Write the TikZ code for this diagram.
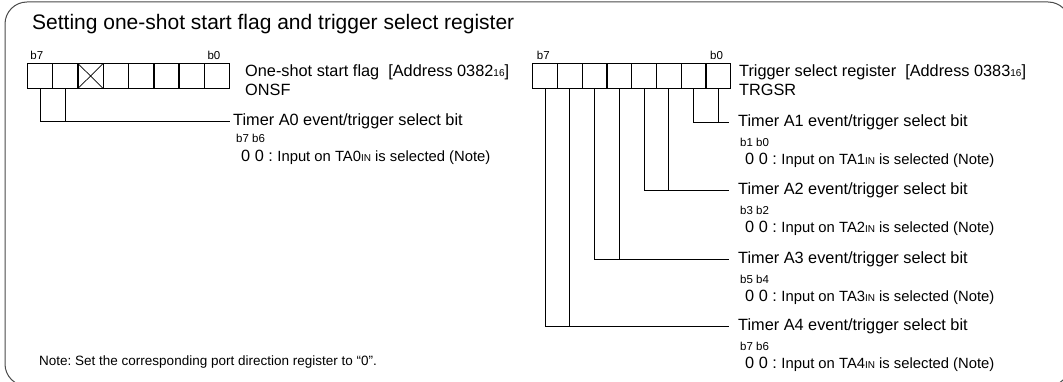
\documentclass[tikz,border=0pt]{standalone}
\usepackage{fontspec}
\setmainfont{Liberation Sans}
\usepackage{xcolor}
\usetikzlibrary{calc}
\definecolor{frame}{HTML}{4A4A4A}
\tikzset{
  frm/.style={draw=frame, line width=1pt, rounded corners=22pt},
  cell/.style={draw=black, line width=1.4pt, minimum width=25.3pt, minimum height=25pt, inner sep=0pt, outer sep=0pt},
  conn/.style={draw=black, line width=0.7pt},
  ttl/.style={font=\fontsize{21}{24}\selectfont, inner sep=0pt, anchor=west},
  mid/.style={font=\fontsize{16.3}{19}\selectfont, inner sep=0pt, anchor=west, align=left},
  sml/.style={font=\fontsize{11.5}{13}\selectfont, inner sep=0pt, anchor=west},
}
\frenchspacing
\newcommand{\subsm}[1]{{\fontsize{10}{10}\selectfont #1}}
\newcommand{\selnote}[1]{0 0 : {\fontsize{14.8}{16}\selectfont Input on TA#1\subsm{IN} is selected (Note)}}

\begin{document}
\begin{tikzpicture}[x=1pt,y=-1pt]
  \useasboundingbox (0,0) rectangle (1063,382);
  \draw[frm] (5,2) rectangle (1070,386);
  \node[ttl] (title) at (32,24) {Setting one-shot start flag and trigger select register};

  % one-shot start flag
  \foreach \i in {7,...,0}
    \node[cell] (L\i) at ({27.3+25.3*(7-\i)+12.65},76) {};
  \draw[conn] (L5.north west) -- (L5.south east) (L5.north east) -- (L5.south west);
  \node[sml, anchor=south west] (lb7) at ($(L7.north west)+(3,-4)$) {b7};
  \node[sml, anchor=south west] (lb0) at ($(L0.north west)+(3,-4)$) {b0};
  \node[mid] (onsf) at (245,80) {One-shot start flag\ \ [Address 0382\subsm{16}]\\ONSF};
  \node[mid, inner xsep=3pt] (tA0) at (230,121) {Timer A0 event/trigger select bit};
  \draw[conn] (L7.south) |- (tA0.west);
  \draw[conn] (L6.south) -- (L6.south |- tA0.west);
  \node[sml] (bA0) at (236,138) {b7 b6};
  \node[mid] (sA0) at (241,157) {\selnote{0}};

  % trigger select register
  \foreach \i in {7,...,0}
    \node[cell, minimum width=24.75pt] (R\i) at ({532.7+24.75*(7-\i)+12.375},76) {};
  \node[sml, anchor=south west] (rb7) at ($(R7.north west)+(4,-4)$) {b7};
  \node[sml, anchor=south west] (rb0) at ($(R0.north west)+(4,-4)$) {b0};
  \node[mid] (trgsr) at (739,80) {Trigger select register\ \ [Address 0383\subsm{16}]\\TRGSR};
  \foreach \n/\hi/\lo/\y in {1/1/0/122, 2/3/2/190, 3/5/4/259, 4/7/6/326}{
    \node[mid, inner xsep=9pt] (tA\n) at (729,\y) {Timer A\n\ event/trigger select bit};
    \draw[conn] (R\hi.south) |- (tA\n.west);
    \draw[conn] (R\lo.south) -- (R\lo.south |- tA\n.west);
    \node[sml] (bA\n) at (740,\y+20) {b\hi\ b\lo};
    \node[mid] (sA\n) at (745,\y+38) {\selnote{\n}};
  }

  \node[mid, font=\fontsize{13.5}{16}\selectfont] (note) at (39,362) {Note: Set the corresponding port direction register to “0”.};
\end{tikzpicture}
\end{document}
